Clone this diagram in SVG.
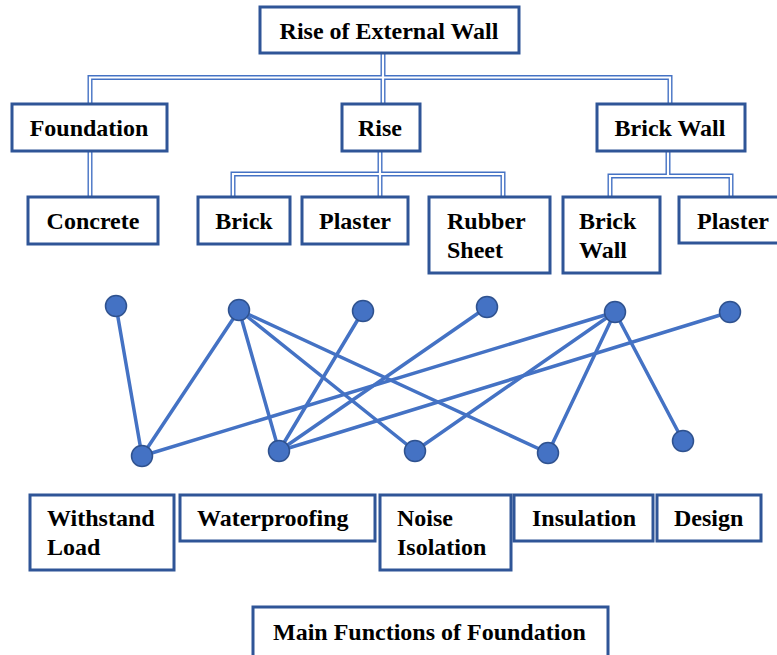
<svg xmlns="http://www.w3.org/2000/svg" xmlns:xlink="http://www.w3.org/1999/xlink" width="777" height="655" viewBox="0 0 777 655">
  <style>
    .box { fill: #ffffff; stroke: #2F5597; stroke-width: 3; }
    .lbl { font-family: 'Liberation Serif', 'DejaVu Serif', serif; font-weight: 700; font-size: 24px; fill: #000000; }
    .mid { text-anchor: middle; }
    .dbl-out { fill: none; stroke: #4472C4; stroke-width: 5; stroke-linejoin: miter; }
    .dbl-in { fill: none; stroke: #ffffff; stroke-width: 2.2; stroke-linejoin: miter; }
    .edge { stroke: #4472C4; stroke-width: 3.5; stroke-linecap: round; }
    .dot { fill: #4472C4; stroke: #2F528F; stroke-width: 1.5; }
  </style>
  <defs>
    <path id="t1" d="M90,104 V77.5 H670 V104"/>
    <path id="t2" d="M383,53 V104"/>
    <path id="f1" d="M90,151 V197"/>
    <path id="r1" d="M380,151 V197"/>
    <path id="r2" d="M233,197 V174 H503 V197"/>
    <path id="w1" d="M668,151 V176"/>
    <path id="w2" d="M610,197 V176 H731 V197"/>
  </defs>

  <!-- double-line tree connectors -->
  <g id="tree-connectors">
    <g class="dbl-out">
      <use xlink:href="#t1"/><use xlink:href="#t2"/><use xlink:href="#f1"/>
      <use xlink:href="#r1"/><use xlink:href="#r2"/><use xlink:href="#w1"/><use xlink:href="#w2"/>
    </g>
    <g class="dbl-in">
      <use xlink:href="#t1"/><use xlink:href="#t2"/><use xlink:href="#f1"/>
      <use xlink:href="#r1"/><use xlink:href="#r2"/><use xlink:href="#w1"/><use xlink:href="#w2"/>
    </g>
  </g>

  <!-- tree nodes -->
  <g id="rise-of-external-wall">
    <rect class="box" x="260" y="7" width="259" height="46"/>
    <text class="lbl mid" x="389" y="39">Rise of External Wall</text>
  </g>
  <g id="foundation">
    <rect class="box" x="12" y="104" width="155" height="47"/>
    <text class="lbl mid" x="89" y="136">Foundation</text>
  </g>
  <g id="rise">
    <rect class="box" x="342" y="104" width="78" height="47"/>
    <text class="lbl mid" x="380" y="136">Rise</text>
  </g>
  <g id="brick-wall">
    <rect class="box" x="597" y="104" width="148" height="47"/>
    <text class="lbl mid" x="670" y="136">Brick Wall</text>
  </g>
  <g id="concrete">
    <rect class="box" x="28" y="197" width="130" height="47"/>
    <text class="lbl mid" x="93" y="229">Concrete</text>
  </g>
  <g id="brick">
    <rect class="box" x="198" y="197" width="92" height="47"/>
    <text class="lbl mid" x="244" y="229">Brick</text>
  </g>
  <g id="plaster-rise">
    <rect class="box" x="302" y="197" width="106" height="47"/>
    <text class="lbl mid" x="355" y="229">Plaster</text>
  </g>
  <g id="rubber-sheet">
    <rect class="box" x="429" y="197" width="121" height="76"/>
    <text class="lbl" x="447" y="229">Rubber</text>
    <text class="lbl" x="447" y="258">Sheet</text>
  </g>
  <g id="brick-wall-child">
    <rect class="box" x="563" y="197" width="97" height="76"/>
    <text class="lbl" x="579" y="229">Brick</text>
    <text class="lbl" x="579" y="258">Wall</text>
  </g>
  <g id="plaster-wall">
    <rect class="box" x="679" y="197" width="110" height="46"/>
    <text class="lbl" x="697" y="229">Plaster</text>
  </g>

  <!-- network edges -->
  <g id="edges" class="edge">
    <line x1="116" y1="306" x2="142" y2="456"/>
    <line x1="239" y1="310" x2="142" y2="456"/>
    <line x1="615" y1="312" x2="142" y2="456"/>
    <line x1="239" y1="310" x2="279" y2="451"/>
    <line x1="363" y1="311" x2="279" y2="451"/>
    <line x1="487" y1="307" x2="279" y2="451"/>
    <line x1="730" y1="312" x2="279" y2="451"/>
    <line x1="239" y1="310" x2="415" y2="451"/>
    <line x1="615" y1="312" x2="415" y2="451"/>
    <line x1="239" y1="310" x2="548" y2="453"/>
    <line x1="615" y1="312" x2="548" y2="453"/>
    <line x1="615" y1="312" x2="683" y2="441"/>
  </g>

  <!-- network dots -->
  <g id="dot-t1"><circle class="dot" cx="116" cy="306" r="10.5"/></g>
  <g id="dot-t2"><circle class="dot" cx="239" cy="310" r="10.5"/></g>
  <g id="dot-t3"><circle class="dot" cx="363" cy="311" r="10.5"/></g>
  <g id="dot-t4"><circle class="dot" cx="487" cy="307" r="10.5"/></g>
  <g id="dot-t5"><circle class="dot" cx="615" cy="312" r="10.5"/></g>
  <g id="dot-t6"><circle class="dot" cx="730" cy="312" r="10.5"/></g>
  <g id="dot-b1"><circle class="dot" cx="142" cy="456" r="10.5"/></g>
  <g id="dot-b2"><circle class="dot" cx="279" cy="451" r="10.5"/></g>
  <g id="dot-b3"><circle class="dot" cx="415" cy="451" r="10.5"/></g>
  <g id="dot-b4"><circle class="dot" cx="548" cy="453" r="10.5"/></g>
  <g id="dot-b5"><circle class="dot" cx="683" cy="441" r="10.5"/></g>

  <!-- function labels -->
  <g id="withstand-load">
    <rect class="box" x="30" y="495" width="144" height="75"/>
    <text class="lbl" x="47" y="526">Withstand</text>
    <text class="lbl" x="47" y="555">Load</text>
  </g>
  <g id="waterproofing">
    <rect class="box" x="180" y="495" width="195" height="46"/>
    <text class="lbl" x="197" y="526">Waterproofing</text>
  </g>
  <g id="noise-isolation">
    <rect class="box" x="380" y="495" width="131" height="75"/>
    <text class="lbl" x="397" y="526">Noise</text>
    <text class="lbl" x="397" y="555">Isolation</text>
  </g>
  <g id="insulation">
    <rect class="box" x="514" y="495" width="139" height="46"/>
    <text class="lbl" x="532" y="526">Insulation</text>
  </g>
  <g id="design">
    <rect class="box" x="657" y="495" width="104" height="46"/>
    <text class="lbl" x="674" y="526">Design</text>
  </g>
  <g id="main-functions">
    <rect class="box" x="253" y="607" width="355" height="56"/>
    <text class="lbl" x="273" y="640">Main Functions of Foundation</text>
  </g>
</svg>
